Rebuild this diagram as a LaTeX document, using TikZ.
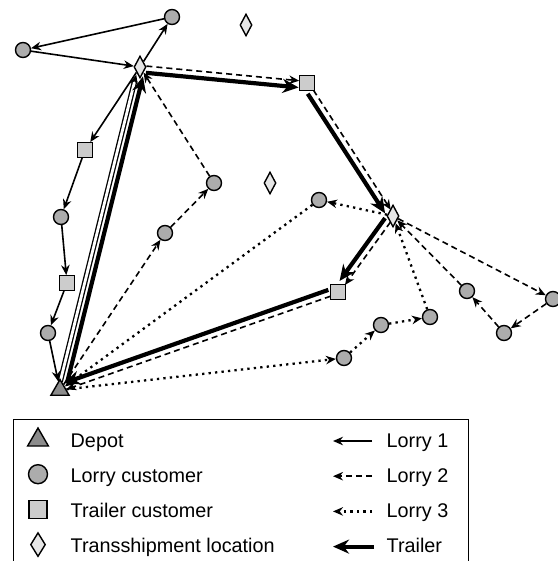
\documentclass[tikz,border=0pt]{standalone}
\usepackage{fontspec}
\setmainfont{Liberation Sans}
\usetikzlibrary{backgrounds,arrows.meta,shapes.geometric}
\definecolor{xdark}{RGB}{140,140,140}
\definecolor{xmid}{RGB}{172,172,172}
\definecolor{xlight}{RGB}{204,204,204}
\definecolor{xpale}{RGB}{230,230,230}

\begin{document}
\begin{tikzpicture}[x=1pt, y=-1pt,
  depot/.style={draw, regular polygon, regular polygon sides=3, minimum size=21pt, inner sep=0pt, fill=xdark, line width=1.4pt},
  lcust/.style={draw, circle, minimum size=15pt, inner sep=0pt, fill=xmid, line width=1.4pt},
  tcust/.style={draw, rectangle, minimum size=14.5pt, inner sep=0pt, fill=xlight, line width=1.4pt},
  tship/.style={draw, diamond, minimum width=12pt, minimum height=22pt, inner sep=0pt, fill=xpale, line width=1.4pt},
  lorry1/.style={-{Stealth[length=10pt,width=8.5pt]}, line width=1.6pt},
  lorry2/.style={lorry1, dash pattern=on 6pt off 4pt},
  lorry3/.style={lorry1, line width=2.3pt, dash pattern=on 2.3pt off 4.2pt},
  trailer/.style={-{Stealth[length=16pt,width=14pt]}, line width=4.2pt},
  legtext/.style={anchor=base west, inner sep=0pt, font=\fontsize{19.8}{23}\selectfont}]
\useasboundingbox (0,0) rectangle (557,561);
\def \dy {35.2}
\def \ly {439}
% locations
\node[depot] at (60, 390) (dep) {};
\node[tship] at (140, 67) (ts1) {};
\node[tship] at (246, 25) (ts2) {};
\node[tship] at (270, 183) (ts3) {};
\node[tship] at (393, 216) (ts4) {};
\node[tcust] at (307, 83) (tc1) {};
\node[tcust] at (338, 292) (tc2) {};
\node[tcust] at (85, 150) (tc3) {};
\node[tcust] at (67, 283) (tc4) {};
\node[lcust] at (172, 17) (lc1) {};
\node[lcust] at (23, 50) (lc2) {};
\node[lcust] at (61, 217) (lc3) {};
\node[lcust] at (48, 333) (lc4) {};
\node[lcust] at (214, 183) (lc5) {};
\node[lcust] at (165, 233) (lc6) {};
\node[lcust] at (319, 200) (lc7) {};
\node[lcust] at (430, 317) (lc8) {};
\node[lcust] at (467, 291) (lc9) {};
\node[lcust] at (553, 299) (lc10) {};
\node[lcust] at (504, 333) (lc11) {};
\node[lcust] at (344, 358) (lc12) {};
\node[lcust] at (381, 325) (lc13) {};
\begin{scope}[on background layer]
% lorry 1
\draw[lorry1, line width=1.3pt, double, double distance=2.8pt, transform canvas={xshift=-1.75pt, yshift=0.4pt}] (dep) -- (ts1);
\draw[lorry1] (ts1) -- (lc1);
\draw[lorry1] (lc1) -- (lc2);
\draw[lorry1] (lc2) -- (ts1);
\draw[lorry1] (ts1) -- (tc3);
\draw[lorry1] (tc3) -- (lc3);
\draw[lorry1] (lc3) -- (tc4);
\draw[lorry1] (tc4) -- (lc4);
\draw[lorry1] (lc4) -- (dep);
% lorry 2
\draw[lorry2] (dep) -- (lc6);
\draw[lorry2] (lc6) -- (lc5);
\draw[lorry2] (lc5) -- (ts1);
\draw[lorry2, transform canvas={xshift=0.1pt, yshift=1.5pt}] (ts1) -- (tc1);
\draw[lorry2, transform canvas={xshift=1.3pt, yshift=0.8pt}] (tc1) -- (ts4);
\draw[lorry2] (ts4) -- (lc10);
\draw[lorry2] (lc10) -- (lc11);
\draw[lorry2] (lc11) -- (lc9);
\draw[lorry2] (lc9) -- (ts4);
\draw[lorry2, transform canvas={xshift=1.2pt, yshift=-0.9pt}] (ts4) -- (tc2);
\draw[lorry2, transform canvas={xshift=0.5pt, yshift=-1.4pt}] (tc2) -- (dep);
% lorry 3
\draw[lorry3] (dep) -- (lc12);
\draw[lorry3] (lc12) -- (lc13);
\draw[lorry3] (lc13) -- (lc8);
\draw[lorry3] (lc8) -- (ts4);
\draw[lorry3] (ts4) -- (lc7);
\draw[lorry3] (lc7) -- (dep);
% trailer
\draw[trailer, transform canvas={xshift=5pt, yshift=-1.25pt}] (dep) -- (ts1);
\draw[trailer, transform canvas={xshift=-0.5pt, yshift=-5.2pt}] (ts1) -- (tc1);
\draw[trailer, transform canvas={xshift=-4.4pt, yshift=-2.8pt}] (tc1) -- (ts4);
\draw[trailer, transform canvas={xshift=-4.2pt, yshift=3.05pt}] (ts4) -- (tc2);
\draw[trailer, transform canvas={xshift=-1.7pt, yshift=4.9pt}] (tc2) -- (dep);
\end{scope}
% legend
\node[draw, line width=1pt, minimum width=455pt, minimum height=170pt, anchor=north west] at (13, 419) (leg) {};
\node[depot, minimum size=24pt] at (38, \ly+1) (kdep) {};
\node[lcust, minimum size=19pt] at (38, \ly+\dy) (klc) {};
\node[tcust, minimum size=18pt] at (38, \ly+2*\dy) (ktc) {};
\node[tship, minimum width=15pt, minimum height=24pt] at (38, \ly+3*\dy) (kts) {};
\node[legtext] at (70.5, \ly+8) (tdep) {Depot};
\node[legtext] at (70.5, \ly+\dy+8) (tlc) {Lorry customer};
\node[legtext] at (70.5, \ly+2*\dy+8) (ttc) {Trailer customer};
\node[legtext] at (70.5, \ly+3*\dy+8) (tts) {Transshipment location};
\node[legtext] at (386.5, \ly+8) (tl1) {Lorry 1};
\node[legtext] at (386.5, \ly+\dy+8) (tl2) {Lorry 2};
\node[legtext] at (386.5, \ly+2*\dy+8) (tl3) {Lorry 3};
\node[legtext] at (386.5, \ly+3*\dy+8) (ttr) {Trailer};
\coordinate (a1) at (372, \ly+2);
\coordinate (b1) at (333, \ly+2);
\coordinate (a2) at (372, \ly+\dy+2);
\coordinate (b2) at (333, \ly+\dy+2);
\coordinate (a3) at (372, \ly+2*\dy+2);
\coordinate (b3) at (333, \ly+2*\dy+2);
\coordinate (a4) at (374, \ly+3*\dy+2);
\coordinate (b4) at (333, \ly+3*\dy+2);
\draw[lorry1] (a1) -- (b1);
\draw[lorry2] (a2) -- (b2);
\draw[lorry3] (a3) -- (b3);
\draw[trailer] (a4) -- (b4);
\end{tikzpicture}
\end{document}
